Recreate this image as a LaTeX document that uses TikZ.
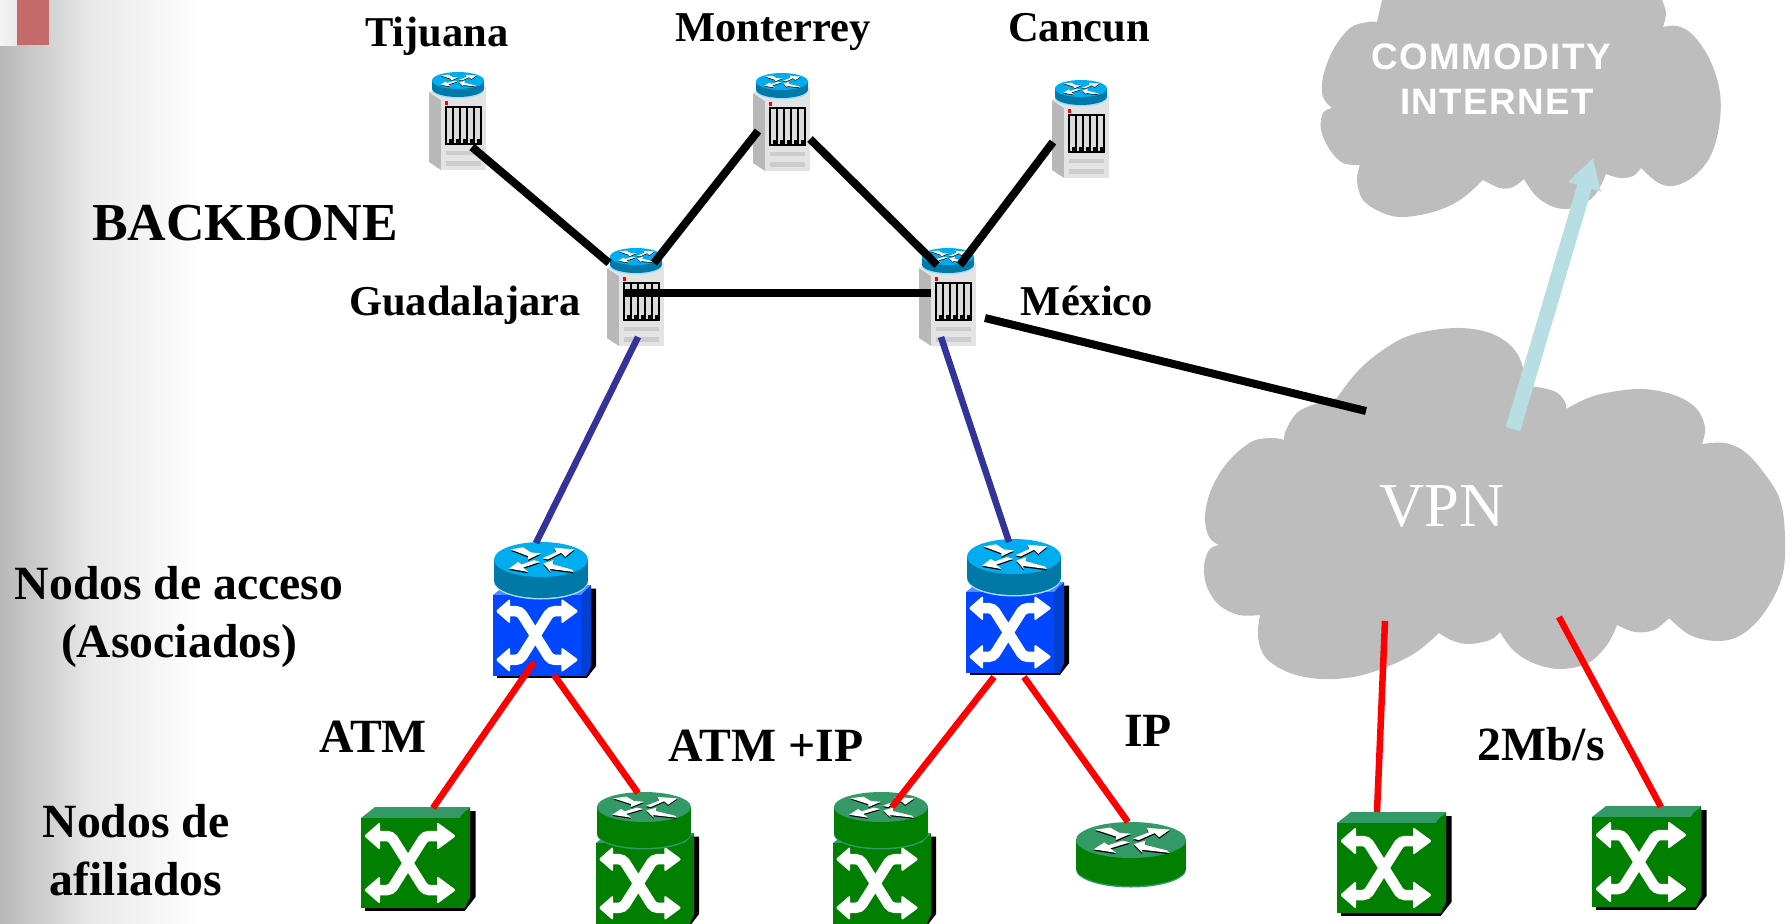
\documentclass[tikz,border=0pt]{standalone}
\usepackage{fontspec}
\setmainfont{Liberation Serif}
\newfontfamily\cloudfont[LetterSpace=3.6]{Liberation Sans}
\usetikzlibrary{arrows.meta}
\definecolor{bluefront}{HTML}{0047FF}
\definecolor{blueside}{HTML}{0040D0}
\definecolor{bluetop}{HTML}{5588FF}
\definecolor{drumtop}{HTML}{00AEEF}
\definecolor{drumside}{HTML}{0079A8}
\definecolor{drumrim}{HTML}{A0E0F8}
\definecolor{greenfront}{HTML}{007F00}
\definecolor{greentop}{HTML}{339966}
\definecolor{cloudgray}{HTML}{BDBDBD}
\definecolor{navyline}{HTML}{333399}
\definecolor{arrowblue}{HTML}{B7DFE3}
\definecolor{marker}{HTML}{C46A6A}
\begin{document}
\begin{tikzpicture}[x=1pt,y=-1pt,
	backbone/.style={draw=black,line width=8},
	access/.style={draw=navyline,line width=6.5},
	tail/.style={draw=red,line width=6.5},
	city/.style={anchor=base,font=\bfseries\fontsize{42.5}{50}\selectfont},
	tag/.style={anchor=base,font=\bfseries\fontsize{47.7}{55}\selectfont},
	cloudtag/.style={anchor=base,text=white,font=\cloudfont\bfseries\fontsize{36.8}{42}\selectfont}]
	\useasboundingbox (0,0) rectangle (1792,924);

	% router drum: cx, top y, rx, ry, height, top, side, rim
	\def\drum#1#2#3#4#5#6#7#8{
		\fill [#8] (#1,#2+#4+#5+1.5) ellipse [x radius=#3, y radius=#4];
		\fill [#7] (#1-#3,#2+#4) rectangle (#1+#3,#2+#4+#5);
		\fill [#7] (#1,#2+#4+#5) ellipse [x radius=#3, y radius=#4];
		\fill [#6] (#1,#2+#4) ellipse [x radius=#3, y radius=#4];
		\begin{scope}[shift={(#1,#2+#4)},xscale=#3/140,yscale=#4/52]
			\foreach \c/\d in {black/4,white/0} {
				\fill [\c,shift={(0,\d)}] (-91,-30) -- (-53,-36) -- (-30,-21) -- (0,-18) -- (-38,0) -- (-38,-10) -- cycle;
				\fill [\c,shift={(0,\d)}] (99,-30) -- (72,-8) -- (60,-20) -- (20,0) -- (5,-4) -- (45,-22) -- (40,-35) -- cycle;
				\fill [\c,shift={(0,\d)}] (-95,27) -- (-38,37) -- (-53,24) -- (-3,7) -- (-21,2) -- (-58,15) -- (-68,7) -- cycle;
				\fill [\c,shift={(0,\d)}] (7,12) -- (37,2) -- (35,14) -- (92,30) -- (97,37) -- (27,28) -- (29,37) -- cycle;
			}
		\end{scope}
	}

	% switch box: x, y, scale, front, side, top
	\def\swbox#1#2#3#4#5#6{
		\begin{scope}[shift={(#1,#2)},scale=#3]
			\fill [black] (4,90) rectangle (104,92.5);
			\fill [black] (100,-7) -- (114.5,-7) -- (114.5,79) -- (104,92.5) -- cycle;
			\fill [#6] (0,0) -- (14,-11) -- (109,-11) -- (98,0) -- cycle;
			\fill [#5] (98,0) -- (109,-11) -- (109,79) -- (104,90) -- (98,90) -- cycle;
			\fill [#4] (0,0) rectangle (98,90);
			\draw [white,line width=10.5,rounded corners=4] (14,18) -- (30,18) -- (64,72) -- (82,72);
			\draw [white,line width=10.5,rounded corners=4] (82,18) -- (64,18) -- (30,72) -- (14,72);
			\foreach \hy in {18,72} {
				\fill [white,rounded corners=2] (3,\hy) -- (19,\hy-14) -- (19,\hy+14) -- cycle;
				\fill [white,rounded corners=2] (95,\hy) -- (76,\hy-14) -- (76,\hy+14) -- cycle;
			}
		\end{scope}
	}

	% slide margin
	\shade [left color=black!28,right color=black!9] (0,0) rectangle (90,924);
	\shade [left color=black!9,right color=white] (90,0) rectangle (200,924);
	\shade [left color=black!4,right color=black!9] (0,0) rectangle (17,45);
	\fill [marker] (17,0) rectangle (49,45);

	% clouds
	\fill [cloudgray]
		plot [smooth,tension=0.6] coordinates {(1382,0) (1377,22)}
		-- plot [smooth,tension=0.6] coordinates {(1377,22) (1368,22) (1350,28) (1333,50) (1323,77) (1323,97) (1332,108)}
		-- plot [smooth,tension=0.6] coordinates {(1332,108) (1323,113) (1321,130) (1330,150) (1343,163) (1360,165)}
		-- plot [smooth,tension=0.6] coordinates {(1360,165) (1357,180) (1363,200) (1383,213) (1403,217) (1433,212) (1460,200) (1483,180)}
		-- plot [smooth,tension=0.6] coordinates {(1483,180) (1500,188) (1513,187) (1524,179)}
		-- plot [smooth,tension=0.6] coordinates {(1524,179) (1537,197) (1557,208) (1577,207) (1595,195) (1606,174)}
		-- plot [smooth,tension=0.6] coordinates {(1606,174) (1620,178) (1633,176) (1641,168)}
		-- plot [smooth,tension=0.6] coordinates {(1641,168) (1657,182) (1673,186) (1693,177) (1710,157) (1719,127) (1720,93) (1710,60) (1693,35) (1677,26) (1663,27)}
		-- plot [smooth,tension=0.6] coordinates {(1663,27) (1666,13) (1662,0)}
		-- cycle;
	\fill [cloudgray]
		plot [smooth,tension=0.6] coordinates {(1284,440) (1286,430) (1298,412) (1321,402) (1337,398)}
		-- plot [smooth,tension=0.6] coordinates {(1337,398) (1356,373) (1380,352) (1411,335) (1455,328) (1490,333) (1513,348) (1523,368) (1522,387)}
		-- plot [smooth,tension=0.6] coordinates {(1522,387) (1537,387) (1556,392) (1565,402) (1566,409)}
		-- plot [smooth,tension=0.6] coordinates {(1566,409) (1588,398) (1611,392) (1643,389) (1674,395) (1696,408) (1705,427) (1702,444)}
		-- plot [smooth,tension=0.6] coordinates {(1702,444) (1725,443) (1745,452) (1764,473) (1780,500) (1785,537) (1782,577) (1764,613) (1741,635) (1717,641) (1690,635) (1669,618)}
		-- plot [smooth,tension=0.6] coordinates {(1669,618) (1654,630) (1635,632) (1617,625)}
		-- plot [smooth,tension=0.6] coordinates {(1617,625) (1607,645) (1588,663) (1560,669) (1533,663) (1513,650) (1500,632)}
		-- plot [smooth,tension=0.6] coordinates {(1500,632) (1490,640) (1468,644) (1451,640) (1439,633)}
		-- plot [smooth,tension=0.6] coordinates {(1439,633) (1415,653) (1384,668) (1353,677) (1321,679) (1290,673) (1266,658) (1258,637) (1260,615)}
		-- plot [smooth,tension=0.6] coordinates {(1260,615) (1239,615) (1219,605) (1207,587) (1204,567) (1209,550) (1219,545)}
		-- plot [smooth,tension=0.6] coordinates {(1219,545) (1209,537) (1205,517) (1211,490) (1227,463) (1251,442) (1272,438) (1284,440)}
		-- cycle;

	% backbone routers
	\foreach \x/\y in {429/72, 753/73, 1052/80, 607/248, 919/248} {
		\begin{scope}[shift={(\x,\y)}]
			\fill [black!28] (0,20) -- (12,28) -- (12,98) -- (0,90) -- cycle;
			\fill [black!11] (12,25) rectangle (57,98);
			\fill [black!11] (0,20) -- (12,14) -- (57,14) -- (57,25) -- (12,28) -- cycle;
			\drum{29}{0}{26}{8.5}{8}{drumtop}{drumside}{drumrim}
			\fill [red] (16,29) rectangle (18.5,33);
			\fill [black] (15.5,34) rectangle (53,73);
			\foreach \s in {0,...,4} {
				\fill [black!14] (17.5+\s*7.1,36) rectangle ++(5.5,31);
				\fill [black!14] (17.5+\s*7.1,67) rectangle ++(2.5,4);
			}
			\fill [black!20] (17,79) rectangle (52,83);
			\fill [black!20] (17,89) rectangle (52,94);
		\end{scope}
	}

	% access nodes
	\swbox{493}{595}{0.9}{bluefront}{blueside}{bluetop}
	\drum{541}{542}{47}{17.5}{21}{drumtop}{drumside}{drumrim}
	\swbox{966}{592}{0.9}{bluefront}{blueside}{bluetop}
	\drum{1014}{539}{47}{17.5}{21}{drumtop}{drumside}{drumrim}

	% affiliated nodes
	\swbox{361}{818}{1}{greenfront}{greenfront}{greentop}
	\swbox{596}{843}{0.9}{greenfront}{greenfront}{greentop}
	\drum{644}{792}{47}{15}{26}{greentop}{greenfront}{greentop}
	\swbox{833}{843}{0.9}{greenfront}{greenfront}{greentop}
	\drum{881}{792}{47}{15}{26}{greentop}{greenfront}{greentop}
	\drum{1131}{822}{55}{18}{28}{greentop}{greenfront}{greentop}
	\swbox{1337}{823}{1}{greenfront}{greenfront}{greentop}
	\swbox{1592}{817}{1}{greenfront}{greenfront}{greentop}

	% link ends
	\coordinate (tijS) at (472,147);
	\coordinate (monW) at (758,131);
	\coordinate (monE) at (810,139);
	\coordinate (canW) at (1053,142);
	\coordinate (gdlNW) at (609,263);
	\coordinate (gdlNE) at (654,263);
	\coordinate (gdlE) at (624,293);
	\coordinate (gdlS) at (638,337);
	\coordinate (mexNW) at (937,265);
	\coordinate (mexNE) at (960,265);
	\coordinate (mexW) at (931,293);
	\coordinate (mexE) at (985,318);
	\coordinate (mexS) at (941,337);
	\coordinate (vpnW) at (1366,411);
	\coordinate (vpnN) at (1513,429);
	\coordinate (vpnSW) at (1385,621);
	\coordinate (vpnSE) at (1559,617);
	\coordinate (comS) at (1593,158);
	\coordinate (accAN) at (536,543);
	\coordinate (accAL) at (534,662);
	\coordinate (accAR) at (554,675);
	\coordinate (accBN) at (1009,542);
	\coordinate (accBL) at (994,677);
	\coordinate (accBR) at (1024,677);
	\coordinate (affA) at (433,808);
	\coordinate (affB) at (638,793);
	\coordinate (affC) at (892,807);
	\coordinate (affD) at (1128,822);
	\coordinate (affE) at (1377,812);
	\coordinate (affF) at (1661,807);

	% links
	\draw [backbone] (tijS) -- (gdlNW);
	\draw [backbone] (gdlNE) -- (monW);
	\draw [backbone] (monE) -- (mexNW);
	\draw [backbone] (canW) -- (mexNE);
	\draw [backbone] (gdlE) -- (mexW);
	\draw [backbone] (mexE) -- (vpnW);
	\draw [access] (gdlS) -- (accAN);
	\draw [access] (mexS) -- (accBN);
	\draw [tail] (accAL) -- (affA);
	\draw [tail] (accAR) -- (affB);
	\draw [tail] (accBL) -- (affC);
	\draw [tail] (accBR) -- (affD);
	\draw [tail] (vpnSW) -- (affE);
	\draw [tail] (vpnSE) -- (affF);
	\draw [draw=arrowblue,line width=15,-{Triangle[length=30,width=32]}] (vpnN) -- (comS);

	% labels
	\node [city] (tijuana) at (437,46) {Tijuana};
	\node [city] (monterrey) at (773,41) {Monterrey};
	\node [city] (cancun) at (1079,41) {Cancun};
	\node [city] (guadalajara) at (465,315) {Guadalajara};
	\node [city] (mexico) at (1087,315) {México};
	\node [anchor=base,font=\bfseries\fontsize{53.4}{60}\selectfont] (backbone) at (245,240) {BACKBONE};
	\node [tag] (acceso) at (179,599) {Nodos de acceso};
	\node [tag] (asociados) at (179,657) {(Asociados)};
	\node [tag] (nodosde) at (136,837) {Nodos de};
	\node [tag] (afiliados) at (136,895) {afiliados};
	\node [tag] (atm) at (373,752) {ATM};
	\node [tag] (atmip) at (766,761) {ATM +IP};
	\node [tag] (ip) at (1148,746) {IP};
	\node [tag] (mbps) at (1541,760) {2Mb/s};
	\node [anchor=base,text=white,font=\fontsize{62.5}{70}\selectfont] (vpn) at (1442,526) {VPN};
	\node [cloudtag] (commodity) at (1491,69) {COMMODITY};
	\node [cloudtag] (internet) at (1497,114) {INTERNET};
\end{tikzpicture}
\end{document}
